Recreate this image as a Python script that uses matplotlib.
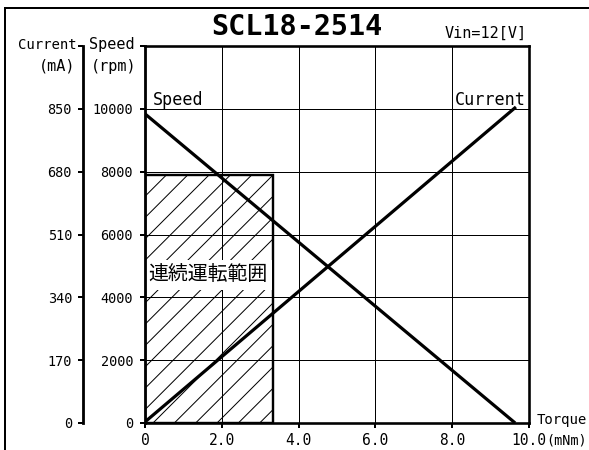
import matplotlib
matplotlib.use("Agg")
import matplotlib.pyplot as plt
from matplotlib import font_manager as fm
from matplotlib.patches import Rectangle
from matplotlib.lines import Line2D

# ---------------- data ----------------
title = "SCL18-2514"
vin_label = "Vin=12[V]"
region_label = "連続運転範囲"

torque_ticks = [0, 2, 4, 6, 8, 10]
torque_ticklabels = ["0", "2.0", "4.0", "6.0", "8.0", "10.0"]
speed_ticks = [0, 2000, 4000, 6000, 8000, 10000, 12000]
speed_ticklabels = ["0", "2000", "4000", "6000", "8000", "10000", ""]
current_ticks = [0, 170, 340, 510, 680, 850, 1020]
current_ticklabels = ["0", "170", "340", "510", "680", "850", ""]

speed_torque = [0.0, 9.64]
speed_rpm = [9840, 0]
current_torque = [0.0, 9.66]
current_ma = [3, 855]

cont_torque = 3.33     # continuous region width (mNm)
cont_speed = 7900      # continuous region height (rpm)

# ---------------- style ----------------
DPI = 128
PX = 72.0 / DPI  # points per pixel

names = {f.name for f in fm.fontManager.ttflist}
def pick(cands, default):
    for c in cands:
        if c in names:
            return c
    return default

MONO = pick(["Noto Sans Mono CJK JP", "DejaVu Sans Mono", "Liberation Mono"], "DejaVu Sans Mono")
NARROW = pick(["Liberation Sans Narrow", "DejaVu Sans Condensed"], MONO)
JP = pick(["Noto Sans CJK JP", "Noto Sans CJK SC"], "DejaVu Sans")

plt.rcParams["hatch.linewidth"] = 1.0 * PX
plt.rcParams["font.family"] = [MONO, JP, "DejaVu Sans"]

fig = plt.figure(figsize=(589 / DPI, 450 / DPI), dpi=DPI)
fig.patch.set_facecolor("white")

L, R, T, B = 145, 529, 46, 423
ax = fig.add_axes([L / 589, 1 - B / 450, (R - L) / 589, (B - T) / 450])
ax.set_xlim(0, 10)
ax.set_ylim(0, 12000)

for s in ["left", "bottom", "top", "right"]:
    ax.spines[s].set_linewidth(2.6 * PX)
ax.spines["left"].set_linewidth(2.8 * PX)

xfs = 8.2
ax.set_xticks(torque_ticks)
ax.set_xticklabels(torque_ticklabels, fontsize=xfs, family=MONO)
ax.set_yticks(speed_ticks)
num_fs = 9.6 if NARROW != MONO else 7.6
ax.set_yticklabels(speed_ticklabels, fontsize=num_fs, family=NARROW)
ax.tick_params(axis="both", direction="out", length=5 * PX, width=2 * PX, colors="black")
ax.tick_params(axis="y", pad=7 * PX)
ax.tick_params(axis="x", pad=5 * PX)
ax.grid(True, color="black", linewidth=1.0 * PX)
ax.set_axisbelow(True)

# continuous operation region
rect = Rectangle((0, 0), cont_torque, cont_speed, facecolor="none",
                 edgecolor="black", hatch="//", linewidth=2.4 * PX, zorder=2)
ax.add_patch(rect)
ax.text(1.63, 4720, region_label, family=JP, fontsize=11.2, ha="center", va="center",
        zorder=2.2, bbox=dict(facecolor="white", edgecolor="none", pad=2.5))

# speed line
ax.plot(speed_torque, speed_rpm, color="black", linewidth=3.2 * PX, zorder=4,
        solid_capstyle="butt")

# current axis
ax2 = ax.twinx()
ax2.set_ylim(0, 1020)
ax2.patch.set_visible(False)
for s in ["right", "top", "bottom"]:
    ax2.spines[s].set_visible(False)
ax2.spines["left"].set_visible(True)
ax2.spines["left"].set_position(("outward", 62 * PX))
ax2.spines["left"].set_linewidth(2.8 * PX)
ax2.yaxis.set_ticks_position("left")
ax2.yaxis.set_label_position("left")
ax2.set_yticks(current_ticks)
ax2.set_yticklabels(current_ticklabels, fontsize=num_fs, family=NARROW)
ax2.tick_params(axis="y", direction="out", length=5 * PX, width=2 * PX, pad=6 * PX)
ax2.plot(current_torque, current_ma, color="black", linewidth=3.2 * PX, zorder=4,
         solid_capstyle="butt")

# axis titles
lab_fs = 9.4
ax.annotate("Speed", xy=(0, 1), xycoords="axes fraction", xytext=(-10 * PX, 1 * PX),
            textcoords="offset points", ha="right", va="center", fontsize=8.6, family=MONO)
ax.annotate("(rpm)", xy=(0, 1), xycoords="axes fraction", xytext=(-8 * PX, -20 * PX),
            textcoords="offset points", ha="right", va="center", fontsize=8.6, family=MONO)
ax.annotate("Current", xy=(0, 1), xycoords="axes fraction", xytext=(-68 * PX, 1 * PX),
            textcoords="offset points", ha="right", va="center", fontsize=7.8, family=MONO)
ax.annotate("(mA)", xy=(0, 1), xycoords="axes fraction", xytext=(-70 * PX, -20 * PX),
            textcoords="offset points", ha="right", va="center", fontsize=8.6, family=MONO)

# curve labels
ax.annotate("Speed", xy=(0, 10000), xycoords="data", xytext=(8 * PX, 4 * PX),
            textcoords="offset points", ha="left", va="baseline", fontsize=lab_fs, family=MONO)
ax.annotate("Current", xy=(1, 10000), xycoords=("axes fraction", "data"),
            xytext=(-3 * PX, 4 * PX), textcoords="offset points", ha="right",
            va="baseline", fontsize=lab_fs, family=MONO)

# x-axis unit and name
ax.annotate("(mNm)", xy=(1, 0), xycoords="axes fraction",
            xytext=(2 * 0.6 * xfs, -10 * PX), textcoords="offset points",
            ha="left", va="top", fontsize=7.6, family=MONO)
ax.annotate("Torque", xy=(1, 0), xycoords="axes fraction", xytext=(8 * PX, -1 * PX),
            textcoords="offset points", ha="left", va="baseline", fontsize=7.9, family=MONO)

# Vin
ax.annotate(vin_label, xy=(1, 1), xycoords="axes fraction", xytext=(-2 * PX, 8 * PX),
            textcoords="offset points", ha="right", va="baseline", fontsize=8.5, family=MONO)

# title
fig.text(296.5 / 589, 1 - 27 / 450, title, ha="center", va="center", fontsize=16,
         fontweight="bold", family=MONO)

# outer frame (open at right and bottom)
fx, fy = 5 / 589, 1 - 8 / 450
fig.add_artist(Line2D([fx, fx], [0, fy], transform=fig.transFigure, color="black",
                      linewidth=2 * PX))
fig.add_artist(Line2D([fx, 1], [fy, fy], transform=fig.transFigure, color="black",
                      linewidth=2 * PX))

fig.savefig("out.png", dpi=DPI)
